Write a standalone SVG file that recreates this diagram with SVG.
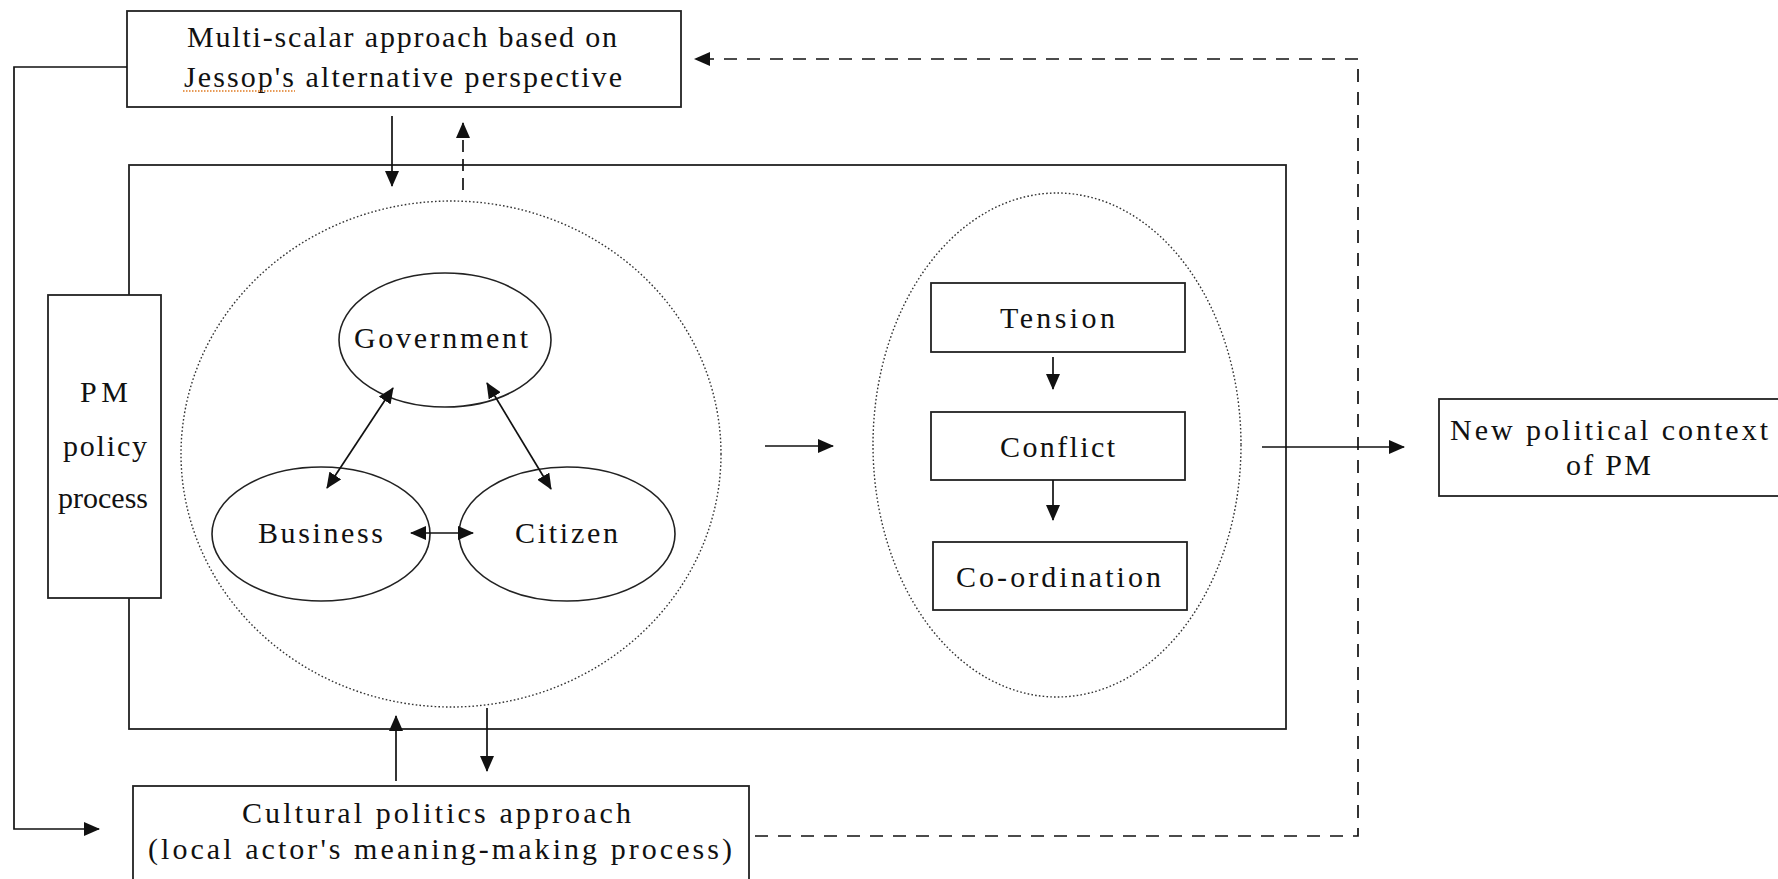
<svg xmlns="http://www.w3.org/2000/svg" width="1778" height="879" viewBox="0 0 1778 879">
<style>
  .box{fill:#fff;stroke:#222;stroke-width:1.8}
  .ell{fill:#fff;stroke:#222;stroke-width:1.6}
  .dot{fill:none;stroke:#333;stroke-width:1.4;stroke-dasharray:1.6 2.2}
  .ln{fill:none;stroke:#111;stroke-width:1.7}
  .dash{fill:none;stroke:#111;stroke-width:1.7;stroke-dasharray:13 10}
  .t{font-family:"Liberation Serif","DejaVu Serif",serif;font-size:30px;fill:#111}
</style>
<defs>
  <marker id="ah" markerUnits="userSpaceOnUse" markerWidth="16" markerHeight="14" viewBox="0 0 16 14" refX="15" refY="7" orient="auto-start-reverse">
    <path d="M0,0 L16,7 L0,14 Z" fill="#111"/>
  </marker>
</defs>
<rect width="1778" height="879" fill="#fff"/>

<g id="frame">
  <rect x="129" y="165" width="1157" height="564" fill="none" stroke="#222" stroke-width="1.8"/>
</g>

<g id="actors-cluster">
  <ellipse class="dot" cx="451" cy="454" rx="270" ry="253"/>
</g>
<g id="process-cluster">
  <ellipse class="dot" cx="1057" cy="445" rx="184" ry="252"/>
</g>

<g id="multi-scalar">
  <rect class="box" x="127" y="11" width="554" height="96"/>
  <text class="t" x="187" y="47" textLength="430" lengthAdjust="spacing">Multi-scalar approach based on</text>
  <text class="t" x="184" y="87" textLength="438" lengthAdjust="spacing">Jessop's alternative perspective</text>
  <line x1="183" y1="91" x2="295" y2="91" stroke="#e07a20" stroke-width="1.3" stroke-dasharray="1.5 1.5"/>
</g>

<g id="pm-policy">
  <rect class="box" x="48" y="295" width="113" height="303"/>
  <text class="t" x="80" y="402" textLength="48" lengthAdjust="spacing">PM</text>
  <text class="t" x="63" y="456" textLength="84" lengthAdjust="spacing">policy</text>
  <text class="t" x="58" y="508" textLength="90" lengthAdjust="spacing">process</text>
</g>

<g id="government">
  <ellipse class="ell" cx="445" cy="340" rx="106" ry="67"/>
  <text class="t" x="354" y="348" textLength="174" lengthAdjust="spacing">Government</text>
</g>
<g id="business">
  <ellipse class="ell" cx="321" cy="534" rx="109" ry="67"/>
  <text class="t" x="258" y="543" textLength="125" lengthAdjust="spacing">Business</text>
</g>
<g id="citizen">
  <ellipse class="ell" cx="567" cy="534" rx="108" ry="67"/>
  <text class="t" x="515" y="543" textLength="103" lengthAdjust="spacing">Citizen</text>
</g>

<g id="tension">
  <rect class="box" x="931" y="283" width="254" height="69"/>
  <text class="t" x="1000" y="328" textLength="115" lengthAdjust="spacing">Tension</text>
</g>
<g id="conflict">
  <rect class="box" x="931" y="412" width="254" height="68"/>
  <text class="t" x="1000" y="457" textLength="115" lengthAdjust="spacing">Conflict</text>
</g>
<g id="coordination">
  <rect class="box" x="933" y="542" width="254" height="68"/>
  <text class="t" x="956" y="587" textLength="205" lengthAdjust="spacing">Co-ordination</text>
</g>

<g id="new-context">
  <rect class="box" x="1439" y="399" width="360" height="97"/>
  <text class="t" x="1450" y="440" textLength="318" lengthAdjust="spacing">New political context</text>
  <text class="t" x="1566" y="475" textLength="85" lengthAdjust="spacing">of PM</text>
</g>

<g id="cultural-politics">
  <rect class="box" x="133" y="786" width="616" height="110"/>
  <text class="t" x="242" y="823" textLength="389" lengthAdjust="spacing">Cultural politics approach</text>
  <text class="t" x="148" y="859" textLength="584" lengthAdjust="spacing">(local actor's meaning-making process)</text>
</g>

<g id="connectors">
  <polyline class="ln" points="127,67 14,67 14,829 99,829" marker-end="url(#ah)"/>
  <polyline class="dash" points="755,836 1358,836 1358,59 695,59" marker-end="url(#ah)"/>
  <line class="ln" x1="392" y1="116" x2="392" y2="186" marker-end="url(#ah)"/>
  <line class="ln" x1="463" y1="190" x2="463" y2="123" stroke-dasharray="12 7" marker-end="url(#ah)"/>
  <line class="ln" x1="396" y1="781" x2="396" y2="716" marker-end="url(#ah)"/>
  <line class="ln" x1="487" y1="708" x2="487" y2="771" marker-end="url(#ah)"/>
  <line class="ln" x1="765" y1="446" x2="833" y2="446" marker-end="url(#ah)"/>
  <line class="ln" x1="1262" y1="447" x2="1404" y2="447" marker-end="url(#ah)"/>
  <line class="ln" x1="1053" y1="357" x2="1053" y2="389" marker-end="url(#ah)"/>
  <line class="ln" x1="1053" y1="480" x2="1053" y2="520" marker-end="url(#ah)"/>
  <line class="ln" x1="393" y1="388" x2="327" y2="488" marker-start="url(#ah)" marker-end="url(#ah)"/>
  <line class="ln" x1="487" y1="383" x2="551" y2="489" marker-start="url(#ah)" marker-end="url(#ah)"/>
  <line class="ln" x1="411" y1="533" x2="473" y2="533" marker-start="url(#ah)" marker-end="url(#ah)"/>
</g>
</svg>
